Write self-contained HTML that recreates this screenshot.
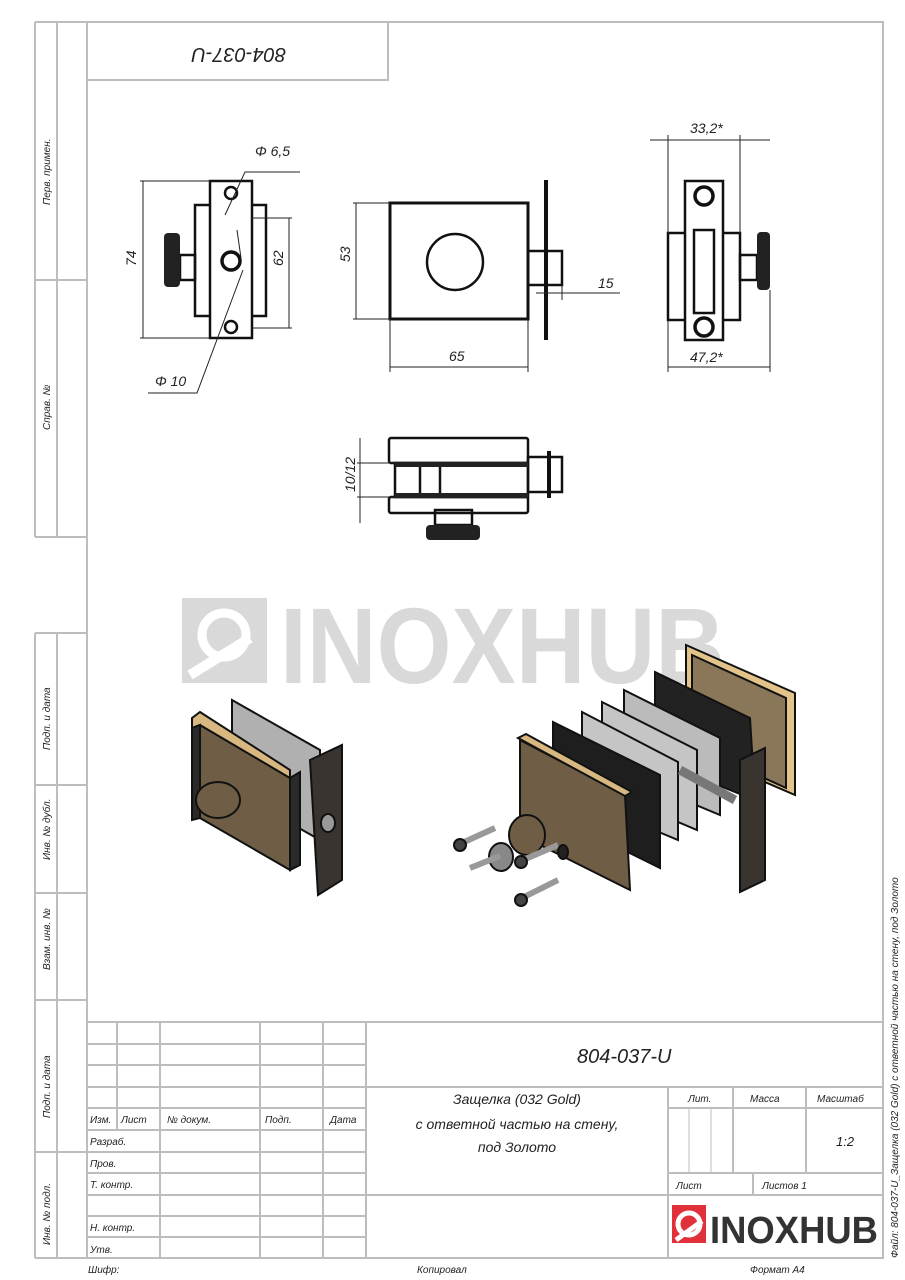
<!DOCTYPE html>
<html><head><meta charset="utf-8"><style>
body{margin:0;background:#fff}
svg{display:block}
text{font-family:"Liberation Sans","DejaVu Sans",sans-serif;font-style:italic;fill:#222}
</style></head><body>
<svg width="905" height="1280" viewBox="0 0 905 1280" xmlns="http://www.w3.org/2000/svg">
<rect width="905" height="1280" fill="#fff"/>
<!-- watermark -->
<rect x="182" y="598" width="85" height="85" fill="#d9d9d9"/>
<circle cx="224" cy="635" r="22" fill="none" stroke="#fff" stroke-width="9"/>
<path d="M190 675 L250 638" stroke="#fff" stroke-width="10"/>
<text x="280" y="683" font-size="108" font-weight="bold" style="font-style:normal;fill:#d9d9d9" textLength="445" lengthAdjust="spacingAndGlyphs">INOXHUB</text>
<!-- frame -->
<g stroke="#bdbdbd" stroke-width="2" fill="none">
<rect x="87" y="22" width="796" height="1236"/>
<rect x="87" y="22" width="301" height="58"/>
<line x1="35" y1="22" x2="87" y2="22"/>
<line x1="35" y1="22" x2="35" y2="537"/>
<line x1="57" y1="22" x2="57" y2="537"/>
<line x1="35" y1="280" x2="87" y2="280"/>
<line x1="35" y1="537" x2="87" y2="537"/>
<line x1="35" y1="633" x2="87" y2="633"/>
<line x1="35" y1="633" x2="35" y2="1258"/>
<line x1="57" y1="633" x2="57" y2="1258"/>
<line x1="35" y1="785" x2="87" y2="785"/>
<line x1="35" y1="893" x2="87" y2="893"/>
<line x1="35" y1="1000" x2="87" y2="1000"/>
<line x1="35" y1="1152" x2="87" y2="1152"/>
<line x1="35" y1="1258" x2="87" y2="1258"/>
<line x1="87" y1="1022" x2="883" y2="1022"/>
<line x1="117" y1="1022" x2="117" y2="1130"/>
<line x1="160" y1="1022" x2="160" y2="1258"/>
<line x1="260" y1="1022" x2="260" y2="1258"/>
<line x1="323" y1="1022" x2="323" y2="1258"/>
<line x1="366" y1="1022" x2="366" y2="1258"/>
<line x1="87" y1="1044" x2="366" y2="1044"/>
<line x1="87" y1="1065" x2="366" y2="1065"/>
<line x1="87" y1="1087" x2="883" y2="1087"/>
<line x1="87" y1="1108" x2="366" y2="1108"/>
<line x1="87" y1="1130" x2="366" y2="1130"/>
<line x1="87" y1="1152" x2="366" y2="1152"/>
<line x1="87" y1="1173" x2="366" y2="1173"/>
<line x1="87" y1="1195" x2="883" y2="1195"/>
<line x1="87" y1="1216" x2="366" y2="1216"/>
<line x1="87" y1="1237" x2="366" y2="1237"/>
<line x1="668" y1="1087" x2="668" y2="1258"/>
<line x1="733" y1="1087" x2="733" y2="1173"/>
<line x1="806" y1="1087" x2="806" y2="1173"/>
<line x1="668" y1="1108" x2="883" y2="1108"/>
<line x1="668" y1="1173" x2="883" y2="1173"/>
<line x1="753" y1="1173" x2="753" y2="1195"/>
<line x1="689" y1="1108" x2="689" y2="1173" stroke-width="1"/>
<line x1="711" y1="1108" x2="711" y2="1173" stroke-width="1"/>
</g>
<g font-size="10">
<text x="90" y="1123">Изм.</text><text x="121" y="1123">Лист</text><text x="167" y="1123">№ докум.</text><text x="265" y="1123">Подп.</text><text x="330" y="1123">Дата</text>
<text x="90" y="1145">Разраб.</text><text x="90" y="1167">Пров.</text><text x="90" y="1188">Т. контр.</text>
<text x="90" y="1231">Н. контр.</text><text x="90" y="1253">Утв.</text>
<text x="688" y="1102">Лит.</text><text x="750" y="1102">Масса</text><text x="817" y="1102">Масштаб</text>
<text x="676" y="1189">Лист</text><text x="762" y="1189">Листов 1</text>
<text x="836" y="1146" font-size="13">1:2</text>
<text x="88" y="1273">Шифр:</text><text x="417" y="1273">Копировал</text><text x="750" y="1273">Формат А4</text>
</g>
<text x="577" y="1063" font-size="20">804-037-U</text>
<g font-size="14" text-anchor="middle">
<text x="517" y="1104">Защелка (032 Gold)</text>
<text x="517" y="1129">с ответной частью на стену,</text>
<text x="517" y="1152">под Золото</text>
</g>
<!-- logo -->
<rect x="672" y="1205" width="34" height="38" fill="#e0303a"/>
<circle cx="689" cy="1224" r="11" fill="none" stroke="#fff" stroke-width="5"/>
<path d="M676 1240 L702 1221" stroke="#fff" stroke-width="5"/>
<text x="710" y="1243" font-size="38" font-weight="bold" style="font-style:normal;fill:#333" textLength="168" lengthAdjust="spacingAndGlyphs">INOXHUB</text>
<g font-size="10">
<text transform="translate(50,205) rotate(-90)">Перв. примен.</text>
<text transform="translate(50,430) rotate(-90)">Справ. №</text>
<text transform="translate(50,750) rotate(-90)">Подп. и дата</text>
<text transform="translate(50,860) rotate(-90)">Инв. № дубл.</text>
<text transform="translate(50,970) rotate(-90)">Взам. инв. №</text>
<text transform="translate(50,1118) rotate(-90)">Подп. и дата</text>
<text transform="translate(50,1245) rotate(-90)">Инв. № подл.</text>
<text transform="translate(898,1258) rotate(-90)">Файл: 804-037-U_Защелка (032 Gold) с ответной частью на стену, под Золото</text>
</g>
<text transform="translate(286,48) rotate(180)" font-size="20">804-037-U</text>
<!-- left view -->
<g stroke="#111" stroke-width="2.5" fill="none">
<rect x="195" y="205" width="71" height="111"/>
<rect x="210" y="181" width="42" height="157" fill="#fff"/>
<circle cx="231" cy="193" r="6"/><circle cx="231" cy="261" r="9" stroke-width="3.5"/><circle cx="231" cy="327" r="6"/>
<rect x="180" y="255" width="15" height="25"/>
<rect x="390" y="203" width="138" height="116" stroke-width="3"/>
<circle cx="455" cy="262" r="28"/>
<rect x="528" y="251" width="34" height="34"/>
<line x1="546" y1="180" x2="546" y2="340" stroke-width="4"/>
<rect x="668" y="233" width="72" height="87"/>
<rect x="685" y="181" width="38" height="159" fill="#fff"/>
<rect x="694" y="230" width="20" height="83"/>
<circle cx="704" cy="196" r="9" stroke-width="3.5"/><circle cx="704" cy="327" r="9" stroke-width="3.5"/>
<rect x="740" y="255" width="17" height="25"/>
<rect x="389" y="438" width="139" height="25" rx="2"/>
<rect x="389" y="497" width="139" height="16" rx="2"/>
<rect x="395" y="463" width="133" height="34"/>
<line x1="420" y1="466" x2="420" y2="494"/><line x1="440" y1="466" x2="440" y2="494"/>
<rect x="528" y="457" width="34" height="35"/>
<line x1="549" y1="451" x2="549" y2="498" stroke-width="4"/>
<rect x="435" y="510" width="37" height="15"/>
</g>
<rect x="164" y="233" width="16" height="54" rx="4" fill="#222"/>
<rect x="757" y="232" width="13" height="58" rx="4" fill="#222"/>
<rect x="426" y="525" width="54" height="15" rx="4" fill="#222"/>
<rect x="395" y="462" width="133" height="5" fill="#222"/><rect x="395" y="493" width="133" height="5" fill="#222"/>
<g stroke="#222" stroke-width="1" fill="none">
<line x1="140" y1="181" x2="210" y2="181"/><line x1="140" y1="338" x2="210" y2="338"/><line x1="143" y1="181" x2="143" y2="338"/>
<line x1="252" y1="218" x2="292" y2="218"/><line x1="252" y1="328" x2="292" y2="328"/><line x1="289" y1="218" x2="289" y2="328"/>
<polyline points="300,172 245,172 225,215"/>
<polyline points="148,393 197,393 243,270"/>
<line x1="237" y1="230" x2="241" y2="258"/>
<line x1="353" y1="203" x2="390" y2="203"/><line x1="353" y1="319" x2="390" y2="319"/><line x1="356" y1="203" x2="356" y2="319"/>
<line x1="390" y1="319" x2="390" y2="372"/><line x1="528" y1="319" x2="528" y2="372"/><line x1="390" y1="367" x2="528" y2="367"/>
<line x1="562" y1="285" x2="562" y2="300"/><line x1="536" y1="293" x2="620" y2="293"/>
<line x1="668" y1="135" x2="668" y2="233"/><line x1="740" y1="135" x2="740" y2="233"/><line x1="650" y1="140" x2="770" y2="140"/>
<line x1="668" y1="320" x2="668" y2="372"/><line x1="770" y1="290" x2="770" y2="372"/><line x1="668" y1="367" x2="770" y2="367"/>
<line x1="357" y1="463" x2="395" y2="463"/><line x1="357" y1="497" x2="395" y2="497"/><line x1="360" y1="438" x2="360" y2="523"/>
</g>
<g font-size="14">
<text x="255" y="156">Φ 6,5</text><text x="155" y="386">Φ 10</text>
<text transform="translate(136,266) rotate(-90)">74</text>
<text transform="translate(283,266) rotate(-90)">62</text>
<text transform="translate(350,262) rotate(-90)">53</text>
<text x="449" y="361">65</text><text x="598" y="288">15</text>
<text x="690" y="133">33,2*</text><text x="690" y="362">47,2*</text>
<text transform="translate(355,492) rotate(-90)">10/12</text>
</g>
<!-- isometric left -->
<g stroke="#111" stroke-width="2">
<polygon points="232,700 320,750 320,840 232,790" fill="#b0b0b0"/>
<polygon points="200,725 290,778 290,870 200,818" fill="#6f5e45"/>
<polygon points="192,718 200,712 290,770 290,778 200,725 192,728" fill="#d8b880"/>
<polygon points="290,778 300,772 300,865 290,870" fill="#2a2a2a"/>
<polygon points="192,728 200,725 200,818 192,820" fill="#2a2a2a"/>
<polygon points="310,760 342,745 342,880 318,895" fill="#3a3430"/>
<ellipse cx="218" cy="800" rx="22" ry="18" fill="#6f5e45"/>
<ellipse cx="328" cy="823" rx="7" ry="9" fill="#999"/>
</g>
<!-- isometric right -->
<g stroke="#111" stroke-width="2">
<polygon points="686,645 795,693 795,795 686,748" fill="#e2c48a"/>
<polygon points="692,655 786,698 786,788 692,745" fill="#8a7658"/>
<polygon points="655,672 750,718 755,800 655,760" fill="#222"/>
<polygon points="624,690 720,738 720,815 624,775" fill="#bbb"/>
<polygon points="602,702 697,750 697,830 602,790" fill="#c5c5c5"/>
<polygon points="582,712 678,762 678,840 582,800" fill="#c5c5c5"/>
<polygon points="553,722 660,775 660,868 553,815" fill="#1e1e1e"/>
<polygon points="520,740 625,795 630,890 520,835" fill="#6f5e45"/>
<polygon points="518,738 526,734 632,792 625,796" fill="#d8b880"/>
<polygon points="740,760 765,748 765,880 740,892" fill="#3a3430"/>
<line x1="680" y1="770" x2="735" y2="800" stroke="#777" stroke-width="9"/>
<ellipse cx="527" cy="835" rx="18" ry="20" fill="#6f5e45"/>
<ellipse cx="501" cy="857" rx="12" ry="14" fill="#888"/>
<line x1="462" y1="843" x2="495" y2="828" stroke="#999" stroke-width="6"/>
<line x1="470" y1="868" x2="500" y2="856" stroke="#999" stroke-width="6"/>
<line x1="523" y1="860" x2="558" y2="845" stroke="#999" stroke-width="6"/>
<line x1="522" y1="898" x2="558" y2="880" stroke="#999" stroke-width="6"/>
<circle cx="460" cy="845" r="6" fill="#444"/><circle cx="521" cy="862" r="6" fill="#444"/><circle cx="521" cy="900" r="6" fill="#444"/>
<ellipse cx="563" cy="852" rx="5" ry="7" fill="#222"/>
</g>
</svg>
</body></html>
